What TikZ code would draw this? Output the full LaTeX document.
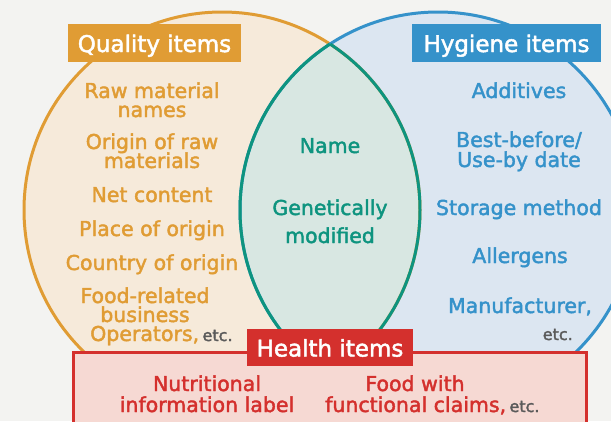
\documentclass[tikz,border=0pt]{standalone}
\usepackage{fontspec}
\setmainfont{DejaVu Sans}
\newfontfamily\medfont{DejaVu Sans}[FakeBold=2]
\definecolor{bgc}{HTML}{F3F3F1}
\definecolor{qorange}{HTML}{E09C34}
\definecolor{qfill}{HTML}{F6EADA}
\definecolor{hblue}{HTML}{3592CA}
\definecolor{hfill}{HTML}{DCE6F1}
\definecolor{teal}{HTML}{0E947F}
\definecolor{lfill}{HTML}{D8E7E2}
\definecolor{hred}{HTML}{D4302D}
\definecolor{rfill}{HTML}{F6D9D3}
\definecolor{etcgray}{HTML}{5A5A5A}
\newcommand\etcword{{\color{etcgray}\medfont\fontsize{16}{16}\selectfont etc.}}
\begin{document}
\begin{tikzpicture}[x=1pt,y=-1pt,
  txt/.style={anchor=base, inner sep=0pt, font=\medfont\fontsize{20.5}{19}\selectfont},
  qtxt/.style={txt, text=qorange},
  htxt/.style={txt, text=hblue},
  ttxt/.style={txt, text=teal},
  rtxt/.style={txt, text=hred},
  etc/.style={text=etcgray, font=\medfont\fontsize{16}{16}\selectfont},
  labelbox/.style={inner sep=0pt, text=white, font=\medfont\fontsize{23}{23}\selectfont,
     text height=18pt, text depth=0pt},
  ring/.style={line width=3pt}
]
\useasboundingbox (0,0) rectangle (611,421);
\clip (0,0) rectangle (611,421);
\fill[bgc] (0,0) rectangle (611,421);
\coordinate (qc) at (222,210);
\coordinate (hc) at (438,210);
% circle fills
\fill[qfill] (qc) circle[radius=198];
\fill[hfill] (hc) circle[radius=198];
\begin{scope}
  \clip (qc) circle[radius=198];
  \fill[lfill] (hc) circle[radius=198];
\end{scope}
% outlines
\draw[ring, qorange] (qc) circle[radius=198];
\draw[ring, hblue] (hc) circle[radius=198];
\begin{scope}
  \clip (qc) circle[radius=198];
  \draw[ring, teal] (hc) circle[radius=198];
\end{scope}
\begin{scope}
  \clip (hc) circle[radius=198];
  \draw[ring, teal] (qc) circle[radius=198];
\end{scope}
% health box
\draw[line width=3pt, hred, fill=rfill] (73,352) rectangle (586,440);
% labels
\node[labelbox, fill=qorange, minimum width=173pt, minimum height=38pt] (qlab) at (154.5,43) {Quality items};
\node[labelbox, fill=hblue, minimum width=189pt, minimum height=38pt] (hlab) at (506.5,43) {Hygiene items};
\node[labelbox, fill=hred, minimum width=166pt, minimum height=37pt] (rlab) at (330,347.5) {Health items};
% quality items
\node[qtxt] (q1a) at (152,98) {Raw material};
\node[qtxt] (q1b) at (152,117) {names};
\node[qtxt] (q2a) at (152,149) {Origin of raw};
\node[qtxt] (q2b) at (152,168) {materials};
\node[qtxt] (q3) at (152,202) {Net content};
\node[qtxt] (q4) at (152,236) {Place of origin};
\node[qtxt] (q5) at (152,270) {Country of origin};
\node[qtxt] (q6a) at (145,303) {Food-related};
\node[qtxt] (q6b) at (145,322) {business};
\node[qtxt, anchor=base west] (q6c) at (90,341) {Operators,\,\etcword};
% center
\node[ttxt] (c1) at (330,153) {Name};
\node[ttxt] (c2a) at (330,215) {Genetically};
\node[ttxt] (c2b) at (330,243) {modified};
% hygiene
\node[htxt] (h1) at (519,98) {Additives};
\node[htxt] (h2a) at (519,147) {Best-before/};
\node[htxt] (h2b) at (519,167) {Use-by date};
\node[htxt] (h3) at (519,215) {Storage method};
\node[htxt] (h4) at (520,263) {Allergens};
\node[htxt] (h5) at (520,313) {Manufacturer,};
\node[txt, etc, anchor=base east] (h6) at (573,340) {etc.};
% health
\node[rtxt] (r1a) at (207,391) {Nutritional};
\node[rtxt] (r1b) at (207,412) {information label};
\node[rtxt] (r2a) at (415,391) {Food with};
\node[rtxt, anchor=base west] (r2b) at (325,412) {functional claims,\,\etcword};
\end{tikzpicture}
\end{document}
